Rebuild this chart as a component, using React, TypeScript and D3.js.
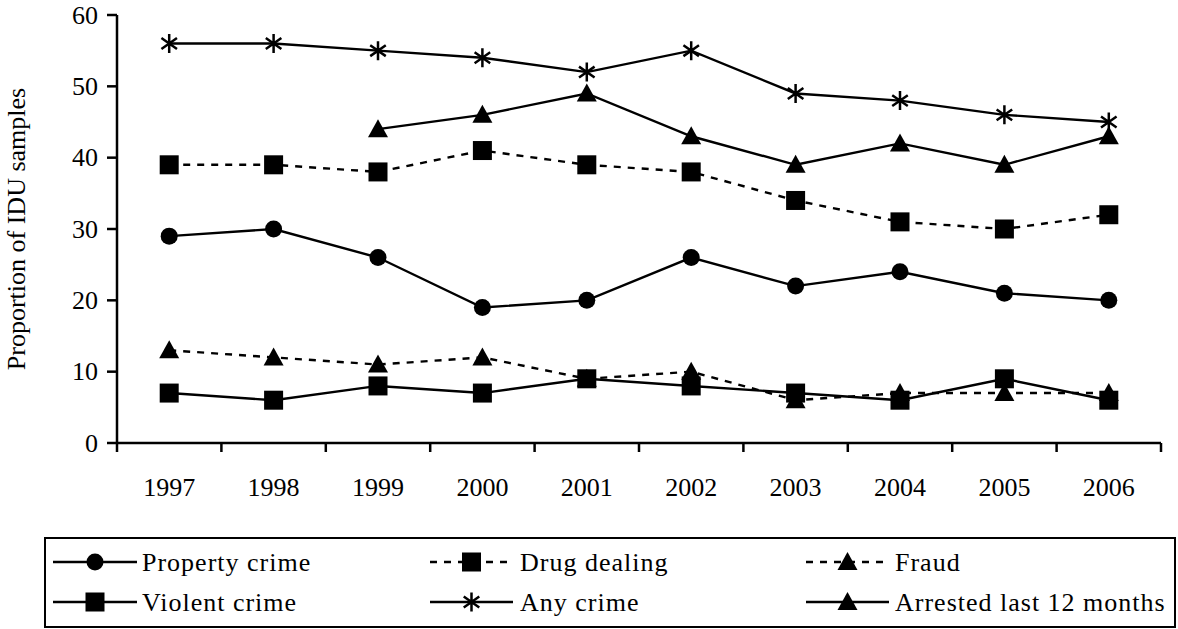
import React from "react";
import * as d3 from "d3";

const years = ["1997", "1998", "1999", "2000", "2001", "2002", "2003", "2004", "2005", "2006"];
const yTicks = [0, 10, 20, 30, 40, 50, 60];

const anyCrime = [56, 56, 55, 54, 52, 55, 49, 48, 46, 45];
const arrested = [null, null, 44, 46, 49, 43, 39, 42, 39, 43];
const drugDealing = [39, 39, 38, 41, 39, 38, 34, 31, 30, 32];
const propertyCrime = [29, 30, 26, 19, 20, 26, 22, 24, 21, 20];
const fraud = [13, 12, 11, 12, 9, 10, 6, 7, 7, 7];
const violentCrime = [7, 6, 8, 7, 9, 8, 7, 6, 9, 6];

type Marker = "circle" | "square" | "triangle" | "star";
interface Series { name: string; values: (number | null)[]; marker: Marker; dashed: boolean }

const series: Series[] = [
  { name: "Any crime", values: anyCrime, marker: "star", dashed: false },
  { name: "Arrested last 12 months", values: arrested, marker: "triangle", dashed: false },
  { name: "Drug dealing", values: drugDealing, marker: "square", dashed: true },
  { name: "Property crime", values: propertyCrime, marker: "circle", dashed: false },
  { name: "Fraud", values: fraud, marker: "triangle", dashed: true },
  { name: "Violent crime", values: violentCrime, marker: "square", dashed: false },
];

const legendOrder = [
  ["Property crime", "Drug dealing", "Fraud"],
  ["Violent crime", "Any crime", "Arrested last 12 months"],
];

const FONT = '"Liberation Serif", "DejaVu Serif", "Liberation Sans", serif';
const textStyle: React.CSSProperties = { fontFamily: FONT, fontSize: 26 };
const legendTextStyle: React.CSSProperties = { fontFamily: FONT, fontSize: 26, letterSpacing: 1 };

function MarkerShape({ type, cx, cy }: { type: Marker; cx: number; cy: number }) {
  if (type === "circle") return <circle cx={cx} cy={cy} r={8.5} fill="#000" />;
  if (type === "square") return <rect x={cx - 9.5} y={cy - 9.5} width={19} height={19} fill="#000" />;
  if (type === "triangle") {
    const p = d3.path();
    p.moveTo(cx, cy - 10);
    p.lineTo(cx + 10, cy + 8);
    p.lineTo(cx - 10, cy + 8);
    p.closePath();
    return <path d={p.toString()} fill="#000" />;
  }
  const r = 9.5;
  const segs = [0, 55, 125].map((a) => {
    const rad = (a * Math.PI) / 180;
    const dx = r * Math.sin(rad);
    const dy = r * Math.cos(rad);
    return `M${cx - dx},${cy - dy}L${cx + dx},${cy + dy}`;
  });
  return <path d={segs.join("")} stroke="#000" strokeWidth={2.5} fill="none" />;
}

export default function App() {
  const width = 1178;
  const height = 629;
  const x = d3.scaleBand<string>().domain(years).range([117, 1161]).padding(0);
  const y = d3.scaleLinear().domain([0, 60]).range([443, 15]);
  const cx = (yr: string) => (x(yr) as number) + x.bandwidth() / 2;

  const line = d3
    .line<number | null>()
    .defined((d) => d !== null)
    .x((_, i) => cx(years[i]))
    .y((d) => y(d as number));

  const boundaries = years.map((yr) => x(yr) as number).concat([x.range()[1]]);

  const legendCols = [
    { x0: 53, x1: 137, tx: 142 },
    { x0: 430, x1: 513, tx: 520 },
    { x0: 806, x1: 889, tx: 895 },
  ];
  const legendRows = [562, 602];

  return (
    <svg
      width={width}
      height={height}
      style={{ position: "absolute", left: 0, top: 0, background: "#fff" }}
    >
      {/* Y axis */}
      <line x1={117} x2={117} y1={y(60)} y2={y(0)} stroke="#000" strokeWidth={2.5} />
      {yTicks.map((t) => (
        <g key={t}>
          <line x1={107} x2={117} y1={y(t)} y2={y(t)} stroke="#000" strokeWidth={2.5} />
          <text x={98} y={y(t)} textAnchor="end" dominantBaseline="central" style={textStyle} fill="#000">
            {t}
          </text>
        </g>
      ))}
      <text
        transform={`translate(16,${(y(0) + y(60)) / 2}) rotate(-90)`}
        textAnchor="middle"
        dominantBaseline="central"
        style={textStyle}
        fill="#000"
      >
        Proportion of IDU samples
      </text>

      {/* X axis */}
      <line x1={117} x2={1161} y1={y(0)} y2={y(0)} stroke="#000" strokeWidth={2.5} />
      {boundaries.map((b, i) => (
        <line key={i} x1={b} x2={b} y1={y(0)} y2={y(0) + 9} stroke="#000" strokeWidth={2.5} />
      ))}
      {years.map((yr) => (
        <text key={yr} x={cx(yr)} y={487} textAnchor="middle" dominantBaseline="central" style={textStyle} fill="#000">
          {yr}
        </text>
      ))}

      {/* Series */}
      {series.map((s) => (
        <g key={s.name}>
          <path
            d={line(s.values) || ""}
            fill="none"
            stroke="#000"
            strokeWidth={2.4}
            strokeDasharray={s.dashed ? "7,7" : undefined}
          />
          {s.values.map((v, i) =>
            v === null ? null : <MarkerShape key={i} type={s.marker} cx={cx(years[i])} cy={y(v)} />
          )}
        </g>
      ))}

      {/* Legend */}
      <rect x={45} y={538} width={1130} height={89} fill="none" stroke="#000" strokeWidth={2} />
      {legendOrder.map((row, ri) =>
        row.map((name, ci) => {
          const s = series.find((ss) => ss.name === name)!;
          const col = legendCols[ci];
          const ly = legendRows[ri];
          return (
            <g key={name}>
              <line
                x1={col.x0}
                x2={col.x1}
                y1={ly}
                y2={ly}
                stroke="#000"
                strokeWidth={2.4}
                strokeDasharray={s.dashed ? "7,7" : undefined}
              />
              <MarkerShape type={s.marker} cx={(col.x0 + col.x1) / 2} cy={ly} />
              <text x={col.tx} y={ly} dominantBaseline="central" style={legendTextStyle} fill="#000">
                {name}
              </text>
            </g>
          );
        })
      )}
    </svg>
  );
}
